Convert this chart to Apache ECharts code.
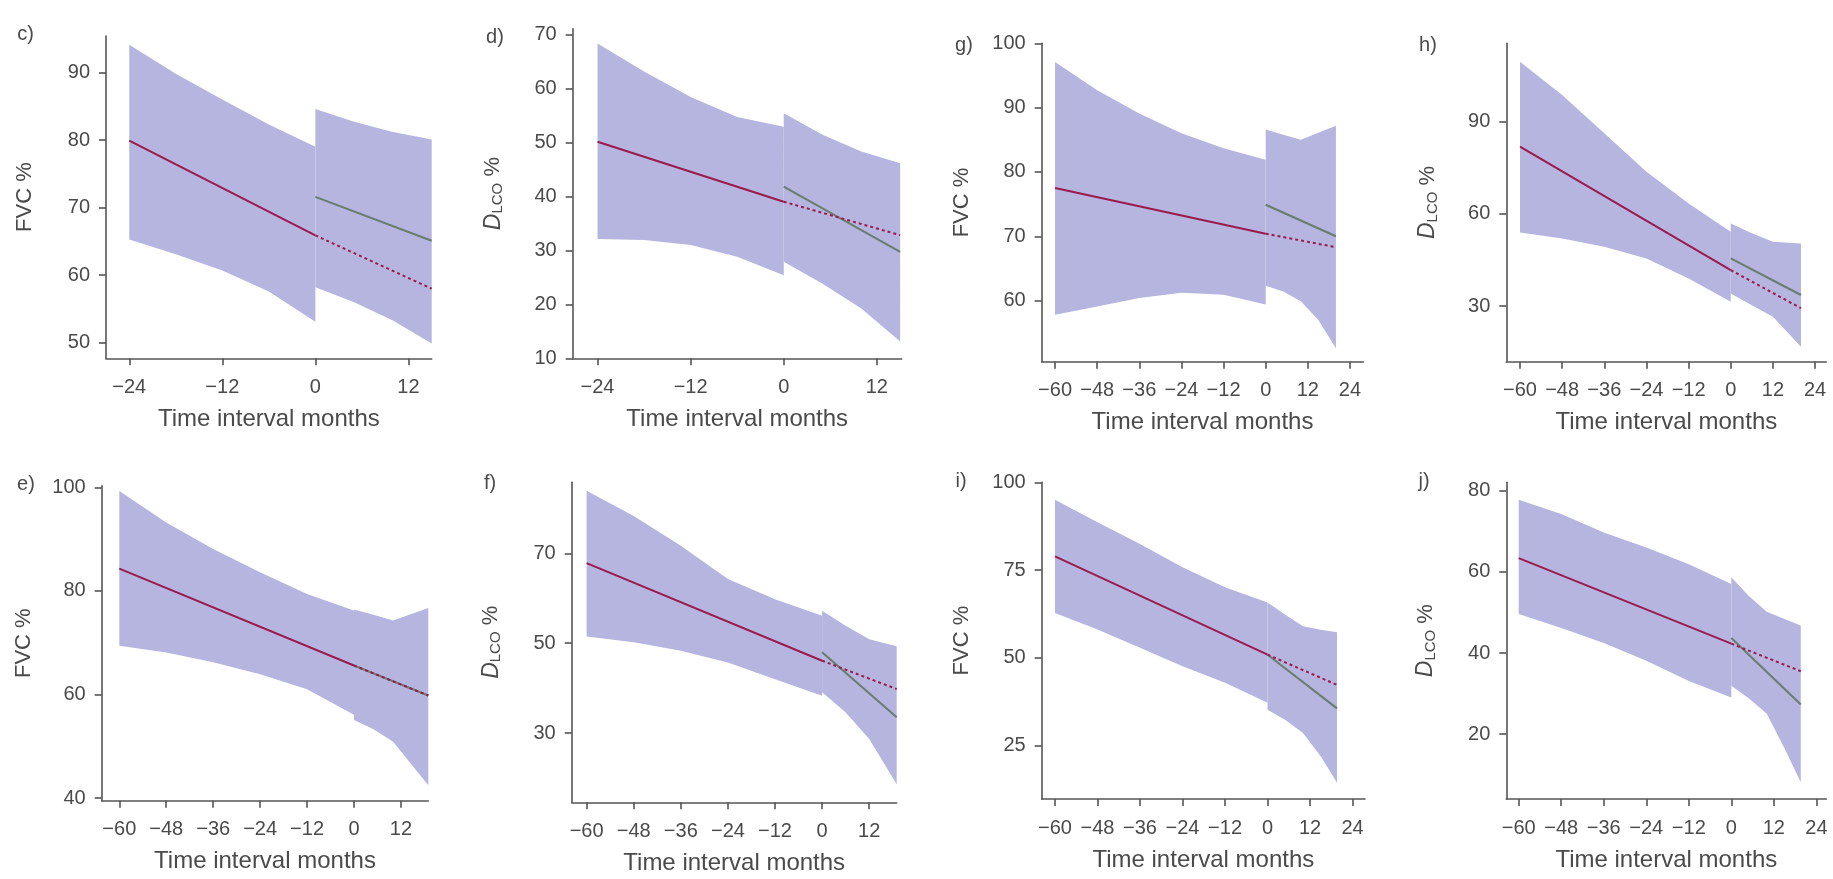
<!DOCTYPE html>
<html>
<head>
<meta charset="utf-8">
<script src="https://cdn.jsdelivr.net/npm/echarts@6/dist/echarts.min.js"></script>
<style>
  html, body { margin: 0; padding: 0; background: #ffffff; }
  #chart { width: 1833px; height: 879px; }
</style>
</head>
<body>
<div id="chart"></div>
<script>
// ---- tick values ----
const xTicksShort = [-24, -12, 0, 12];
const xTicksMid = [-60, -48, -36, -24, -12, 0, 12];
const xTicksLong = [-60, -48, -36, -24, -12, 0, 12, 24];
const yTicksC = [50, 60, 70, 80, 90];
const yTicksD = [10, 20, 30, 40, 50, 60, 70];
const yTicksG = [60, 70, 80, 90, 100];
const yTicksH = [30, 60, 90];
const yTicksE = [40, 60, 80, 100];
const yTicksF = [30, 50, 70];
const yTicksI = [25, 50, 75, 100];
const yTicksJ = [20, 40, 60, 80];

// ---- confidence bands: [month, lower, upper] ----
// ---- fitted lines: [month, value] ----

// c) FVC %
const cBandBefore = [[-24, 65.3, 94.1], [-18, 63.1, 89.8], [-12, 60.7, 86.0], [-6, 57.6, 82.3], [0, 53.1, 79.0]];
const cBandAfter = [[0, 58.2, 84.6], [5, 56.0, 82.7], [10, 53.3, 81.2], [15, 49.9, 80.1]];
const cFitBefore = [[-24, 79.9], [0, 65.9]];
const cFitProjected = [[0, 65.9], [15, 58.0]];
const cFitAfter = [[0, 71.6], [15, 65.1]];

// d) DLCO %
const dBandBefore = [[-24, 32.1, 68.3], [-18, 31.9, 63.1], [-12, 31.0, 58.4], [-6, 28.8, 54.7], [0, 25.4, 52.9]];
const dBandAfter = [[0, 27.9, 55.4], [5, 23.8, 51.4], [10, 19.2, 48.3], [15, 13.1, 46.1]];
const dFitBefore = [[-24, 50.1], [0, 39.0]];
const dFitProjected = [[0, 39.0], [15, 32.8]];
const dFitAfter = [[0, 41.8], [15, 29.7]];

// g) FVC %
const gBandBefore = [[-60, 57.8, 97.1], [-48, 59.1, 92.7], [-36, 60.4, 89.1], [-24, 61.2, 86.0], [-12, 60.9, 83.7], [0, 59.4, 81.9]];
const gBandAfter = [[0, 62.3, 86.6], [5, 61.4, 85.8], [10, 59.9, 85.0], [15, 57.0, 86.1], [20, 52.6, 87.2]];
const gFitBefore = [[-60, 77.5], [0, 70.4]];
const gFitProjected = [[0, 70.4], [20, 68.3]];
const gFitAfter = [[0, 74.9], [20, 70.0]];

// h) DLCO %
const hBandBefore = [[-60, 53.9, 109.5], [-48, 52.0, 98.7], [-36, 49.3, 86.2], [-24, 45.5, 73.7], [-12, 39.0, 63.4], [0, 31.4, 54.2]];
const hBandAfter = [[0, 34.1, 56.9], [6, 30.3, 53.7], [12, 26.5, 50.9], [20, 16.8, 50.4]];
const hFitBefore = [[-60, 81.9], [0, 41.7]];
const hFitProjected = [[0, 41.7], [20, 29.3]];
const hFitAfter = [[0, 45.5], [20, 33.6]];

// e) FVC %
const eBandBefore = [[-60, 69.4, 99.3], [-48, 68.1, 93.2], [-36, 66.2, 88.1], [-24, 63.9, 83.6], [-12, 61.0, 79.4], [0, 56.1, 76.2]];
const eBandAfter = [[0, 55.1, 76.4], [5, 53.3, 75.4], [10, 50.9, 74.3], [19, 42.5, 76.7]];
const eFitBefore = [[-60, 84.3], [0, 65.6]];
const eFitProjected = [[0, 65.6], [19, 59.8]];
const eFitAfter = [[0, 65.6], [19, 59.8]];

// f) DLCO %
const fBandBefore = [[-60, 51.5, 83.9], [-48, 50.2, 78.3], [-36, 48.3, 71.7], [-24, 45.7, 64.3], [-12, 42.0, 59.8], [0, 38.3, 56.1]];
const fBandAfter = [[0, 39.1, 57.2], [6, 34.6, 53.9], [12, 28.7, 50.9], [19, 18.6, 49.3]];
const fFitBefore = [[-60, 67.8], [0, 46.1]];
const fFitProjected = [[0, 46.1], [19, 39.8]];
const fFitAfter = [[0, 48.0], [19, 33.5]];

// i) FVC %
const iBandBefore = [[-60, 62.8, 95.0], [-48, 58.1, 88.6], [-36, 52.9, 82.4], [-24, 47.6, 75.8], [-12, 42.9, 70.1], [0, 37.2, 65.8]];
const iBandAfter = [[0, 35.2, 65.8], [5, 32.3, 62.3], [10, 28.6, 59.0], [15, 22.0, 58.0], [19.6, 14.4, 57.3]];
const iFitBefore = [[-60, 78.9], [0, 50.9]];
const iFitProjected = [[0, 50.9], [19.6, 42.3]];
const iFitAfter = [[0, 50.9], [19.6, 35.6]];

// j) DLCO %
const jBandBefore = [[-60, 49.6, 77.8], [-48, 46.2, 74.3], [-36, 42.5, 69.7], [-24, 38.1, 66.0], [-12, 33.1, 61.9], [0, 29.0, 57.0]];
const jBandAfter = [[0, 31.9, 58.7], [5, 28.8, 54.0], [10, 25.0, 50.2], [15, 16.5, 48.4], [19.6, 8.1, 46.8]];
const jFitBefore = [[-60, 63.4], [0, 42.3]];
const jFitProjected = [[0, 42.3], [19.6, 35.5]];
const jFitAfter = [[0, 43.7], [19.6, 27.3]];

const FVC = 'FVC %';
const DLCO = '{d|D}{s|LCO} %';

const panels = [
  { label: 'c)', yName: FVC, xTicks: xTicksShort, yTicks: yTicksC, bands: [cBandBefore, cBandAfter], before: cFitBefore, projected: cFitProjected, after: cFitAfter },
  { label: 'd)', yName: DLCO, xTicks: xTicksShort, yTicks: yTicksD, bands: [dBandBefore, dBandAfter], before: dFitBefore, projected: dFitProjected, after: dFitAfter },
  { label: 'g)', yName: FVC, xTicks: xTicksLong, yTicks: yTicksG, bands: [gBandBefore, gBandAfter], before: gFitBefore, projected: gFitProjected, after: gFitAfter },
  { label: 'h)', yName: DLCO, xTicks: xTicksLong, yTicks: yTicksH, bands: [hBandBefore, hBandAfter], before: hFitBefore, projected: hFitProjected, after: hFitAfter },
  { label: 'e)', yName: FVC, xTicks: xTicksMid, yTicks: yTicksE, bands: [eBandBefore, eBandAfter], before: eFitBefore, projected: eFitProjected, after: eFitAfter },
  { label: 'f)', yName: DLCO, xTicks: xTicksMid, yTicks: yTicksF, bands: [fBandBefore, fBandAfter], before: fFitBefore, projected: fFitProjected, after: fFitAfter },
  { label: 'i)', yName: FVC, xTicks: xTicksLong, yTicks: yTicksI, bands: [iBandBefore, iBandAfter], before: iFitBefore, projected: iFitProjected, after: iFitAfter },
  { label: 'j)', yName: DLCO, xTicks: xTicksLong, yTicks: yTicksJ, bands: [jBandBefore, jBandAfter], before: jFitBefore, projected: jFitProjected, after: jFitAfter }
];

// plot rectangles (px) and axis extents, one per panel in the same order
const frames = [
  { l: 106.0, t: 36.0, r: 431.7, b: 358.3, x: [-27.0, 15.0], y: [47.7, 95.4], yGap: 70, tag: [25.5, 34] },
  { l: 572.7, t: 28.9, r: 901.7, b: 358.3, x: [-27.2, 15.2], y: [10, 71], yGap: 67, tag: [495, 37] },
  { l: 1041.7, t: 43.3, r: 1363.3, b: 361.7, x: [-63.8, 27.8], y: [50.5, 100], yGap: 69, tag: [964, 45] },
  { l: 1506.3, t: 43.3, r: 1826.3, b: 361.7, x: [-63.9, 27.2], y: [11.9, 115.5], yGap: 66, tag: [1428, 45] },
  { l: 101.7, t: 485.7, r: 428.3, b: 800.7, x: [-64.5, 19.0], y: [39.5, 100.3], yGap: 67, tag: [26, 484] },
  { l: 571.7, t: 482.3, r: 896.7, b: 802.3, x: [-63.8, 19.0], y: [14.6, 85.8], yGap: 68, tag: [490, 483] },
  { l: 1041.7, t: 482.3, r: 1365.0, b: 799.0, x: [-63.75, 27.5], y: [9.8, 100], yGap: 69, tag: [961, 481] },
  { l: 1506.3, t: 482.3, r: 1826.3, b: 799.0, x: [-63.5, 26.8], y: [4, 82.1], yGap: 68, tag: [1424, 481] }
];

const FONT = '"Liberation Sans", Arial, sans-serif';
const TEXT = '#4a4a4a';
const AXIS = '#555555';
const BAND = '#b5b5e0';
const RED = '#9a1a4e';
const GREEN = '#6a7c6e';

const fmt = v => (v < 0 ? '\u2212' + Math.abs(v) : String(v));

const grids = [], xAxes = [], yAxes = [], series = [], graphics = [];

panels.forEach((p, i) => {
  const f = frames[i];
  grids.push({ left: f.l, top: f.t, width: f.r - f.l, height: f.b - f.t, outerBoundsMode: 'none', containLabel: false });

  xAxes.push({
    type: 'value', gridIndex: i, min: f.x[0], max: f.x[1],
    splitLine: { show: false },
    axisLine: { show: true, onZero: false, lineStyle: { color: AXIS, width: 1.6 } },
    axisTick: { show: true, customValues: p.xTicks, length: 7, lineStyle: { color: AXIS, width: 1.6 } },
    axisLabel: { customValues: p.xTicks, formatter: fmt, fontSize: 20, fontFamily: FONT, color: TEXT, margin: 19 },
    name: 'Time interval months', nameLocation: 'middle', nameGap: 49,
    nameTextStyle: { fontSize: 24, fontFamily: FONT, color: TEXT }
  });

  yAxes.push({
    type: 'value', gridIndex: i, min: f.y[0], max: f.y[1],
    splitLine: { show: false },
    axisLine: { show: true, onZero: false, lineStyle: { color: AXIS, width: 1.6 } },
    axisTick: { show: true, customValues: p.yTicks, length: 7, lineStyle: { color: AXIS, width: 1.6 } },
    axisLabel: { customValues: p.yTicks, fontSize: 20, fontFamily: FONT, color: TEXT, margin: 16 },
    name: p.yName, nameLocation: 'middle', nameGap: f.yGap,
    nameTextStyle: {
      fontSize: 22, fontFamily: FONT, color: TEXT,
      rich: {
        d: { fontSize: 23, fontStyle: 'italic', fontFamily: FONT, color: TEXT, lineHeight: 25, verticalAlign: 'middle' },
        s: { fontSize: 15, fontFamily: FONT, color: TEXT, lineHeight: 15, verticalAlign: 'bottom' }
      }
    }
  });

  // confidence bands, drawn as filled polygons through the axis scales
  p.bands.forEach(rows => {
    series.push({
      type: 'custom', xAxisIndex: i, yAxisIndex: i, z: 1, silent: true,
      data: rows.map(r => [r[0], r[1], r[2]]),
      renderItem: (params, api) => {
        if (params.dataIndex !== 0) return null;
        const top = rows.map(r => api.coord([r[0], r[2]]));
        const bottom = rows.slice().reverse().map(r => api.coord([r[0], r[1]]));
        return { type: 'polygon', shape: { points: top.concat(bottom) }, style: { fill: BAND } };
      }
    });
  });

  const line = (data, color, type, z) => ({
    type: 'line', xAxisIndex: i, yAxisIndex: i, data, z, silent: true,
    symbol: 'none', animation: false,
    lineStyle: { color, width: 2, type }
  });
  series.push(line(p.after, GREEN, 'solid', 3));
  series.push(line(p.projected, RED, [3, 3], 4));
  series.push(line(p.before, RED, 'solid', 4));

  graphics.push({
    type: 'text', x: f.tag[0], y: f.tag[1],
    style: { text: p.label, fontSize: 20, fontFamily: FONT, fill: TEXT, align: 'center', verticalAlign: 'middle' }
  });
});

const chart = echarts.init(document.getElementById('chart'), null, { renderer: 'canvas' });
chart.setOption({
  animation: false,
  backgroundColor: '#ffffff',
  grid: grids,
  xAxis: xAxes,
  yAxis: yAxes,
  series,
  graphic: graphics
});
</script>
</body>
</html>
